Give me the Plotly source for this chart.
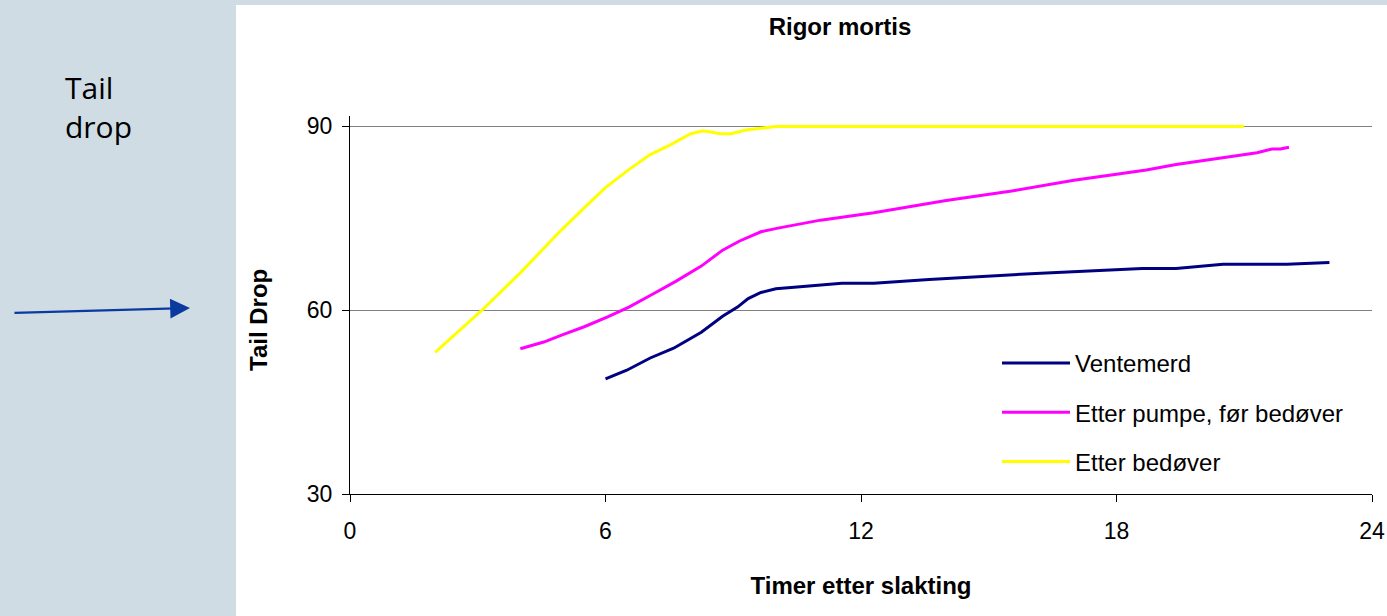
import plotly.graph_objects as go

# Data (hours after slaughter, tail drop)
vent_x = [6.0, 6.5, 7.05, 7.6, 8.25, 8.75, 9.1, 9.35, 9.65, 10.0, 10.5, 11.0, 11.55, 12.3, 13.6, 16.1, 18.6, 19.4, 20.0, 20.5, 22.0, 23.0]
vent_y = [48.8, 50.2, 52.2, 53.8, 56.4, 59.0, 60.5, 61.9, 62.9, 63.5, 63.8, 64.1, 64.4, 64.4, 65.0, 66.0, 66.8, 66.8, 67.2, 67.5, 67.5, 67.8]

pump_x = [4.0, 4.55, 5.0, 5.5, 6.05, 6.55, 7.05, 7.65, 8.25, 8.75, 9.15, 9.65, 10.05, 10.55, 11.05, 12.3, 13.2, 14.0, 15.5, 17.0, 18.0, 18.7, 19.4, 20.0, 20.6, 21.3, 21.65, 21.85, 22.05]
pump_y = [53.7, 54.8, 56.0, 57.3, 58.9, 60.5, 62.4, 64.7, 67.2, 69.8, 71.3, 72.8, 73.4, 74.1, 74.7, 75.9, 77.0, 77.9, 79.4, 81.2, 82.2, 82.9, 83.8, 84.4, 85.1, 85.7, 86.3, 86.3, 86.6]

bed_x = [2.0, 3.1, 4.0, 4.95, 5.5, 6.0, 6.5, 7.05, 7.5, 8.0, 8.3, 8.7, 8.95, 9.3, 9.65, 10.0, 12.0, 15.0, 18.0, 21.0]
bed_y = [53.1, 60.0, 66.1, 73.0, 76.7, 80.0, 82.7, 85.4, 86.9, 88.8, 89.3, 88.8, 88.8, 89.4, 89.7, 90.0, 90.0, 90.0, 90.0, 90.0]

series_names = ["Ventemerd", "Etter pumpe, før bedøver", "Etter bedøver"]
series_colors = ["#000080", "#FF00FF", "#FFFF00"]

x_ticks = [0, 6, 12, 18, 24]
y_ticks = [30, 60, 90]

W, H = 1387, 616
L, R, T, B = 350, 15, 116, 122
pw, ph = W - L - R, H - T - B

def px(xp):
    return (xp - L) / pw

def py(yp):
    return (H - B - yp) / ph

fig = go.Figure()
for i, (xs, ys) in enumerate([(vent_x, vent_y), (pump_x, pump_y), (bed_x, bed_y)]):
    fig.add_trace(go.Scatter(
        x=xs, y=ys, mode="lines", name=series_names[i],
        line=dict(color=series_colors[i], width=3),
        legendgroup=f"g{i}",
    ))

fig.update_layout(
    width=W, height=H,
    margin=dict(l=L, r=R, t=T, b=B, autoexpand=False),
    paper_bgcolor="#CFDCE4",
    plot_bgcolor="white",
    font=dict(family="Liberation Sans, Arial, sans-serif", color="black", size=23),
    title=dict(text="<b>Rigor mortis</b>", xref="paper", x=px(840), xanchor="center",
               yref="container", y=1 - 27 / H, yanchor="middle", font=dict(size=24)),
    showlegend=True,
    legend=dict(x=px(997), y=py(341), xanchor="left", yanchor="top",
                bgcolor="rgba(0,0,0,0)", font=dict(size=24), itemwidth=68,
                tracegroupgap=15, traceorder="grouped"),
    shapes=[
        dict(type="rect", xref="paper", yref="paper",
             x0=px(236), x1=px(W + 5), y0=py(5), y1=py(H + 5),
             fillcolor="white", line=dict(width=0), layer="below"),
    ],
    annotations=[
        dict(text="Tail", xref="paper", yref="paper",
             x=px(63), y=py(88), xanchor="left", yanchor="middle",
             showarrow=False, align="left",
             font=dict(family="Open Sans", size=30, color="black")),
        dict(text="drop", xref="paper", yref="paper",
             x=px(63), y=py(127), xanchor="left", yanchor="middle",
             showarrow=False, align="left",
             font=dict(family="Open Sans", size=30, color="black")),
        dict(text="<b>Tail Drop</b>", xref="paper", yref="paper",
             x=px(258), y=py(320), xanchor="center", yanchor="middle",
             textangle=-90, showarrow=False,
             font=dict(size=24, color="black")),
        dict(text="", xref="paper", yref="paper", x=px(190), y=py(308),
             ax=-177, ay=5, showarrow=True, arrowhead=2, arrowsize=1.8,
             arrowwidth=2.2, arrowcolor="#0A3A9E", standoff=0),
    ],
)

fig.update_xaxes(
    range=[0, 24], tickvals=x_ticks, ticktext=[str(v) for v in x_ticks],
    showgrid=False, zeroline=False, showline=True, linecolor="black", linewidth=1,
    ticks="outside", ticklen=7, tickcolor="black", automargin=False,
    ticklabelstandoff=9,
    title=dict(text="<b>Timer etter slakting</b>", standoff=34, font=dict(size=24)),
)
fig.update_yaxes(
    range=[30, 91.7], tickvals=y_ticks, ticktext=[str(v) for v in y_ticks],
    showgrid=True, gridcolor="#808080", gridwidth=1, zeroline=False,
    showline=True, linecolor="black", linewidth=1,
    ticks="outside", ticklen=7, tickcolor="black", automargin=False,
    ticklabelstandoff=5,
)

fig.write_html(
    "out.html",
    config={"displayModeBar": False},
    post_script="document.body.style.margin='0';document.body.style.overflow='hidden';",
)
